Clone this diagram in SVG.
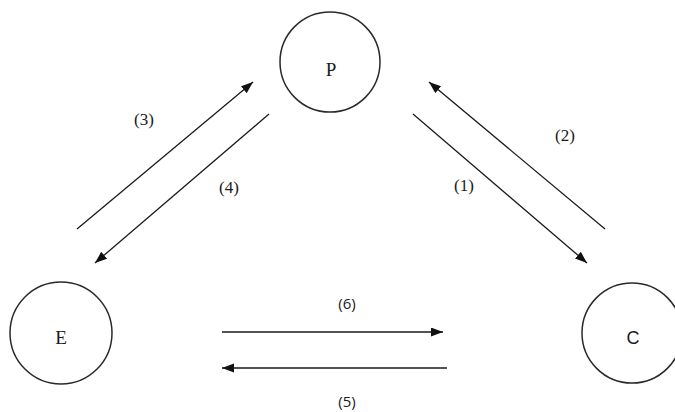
<svg xmlns="http://www.w3.org/2000/svg" width="675" height="412" viewBox="0 0 675 412">
<style>
.node circle{fill:#fff;stroke:#2a2a2a;stroke-width:1.5}
.serif{font-family:"Liberation Serif","Times New Roman",serif;font-size:19px;fill:#1a1a1a;text-anchor:middle}
.sans{font-family:"Liberation Sans","Open Sans",Arial,sans-serif;font-size:18px;fill:#1a1a1a;text-anchor:middle}
.lbl{font-family:"Liberation Serif","Times New Roman",serif;font-size:17px;fill:#1a1a1a;text-anchor:middle}
.lbls{font-family:"Open Sans","Liberation Sans",sans-serif;font-size:15px;fill:#1a1a1a;text-anchor:middle}
#connectors line{stroke:#1a1a1a;stroke-width:1.3;marker-end:url(#ah)}
</style>
<defs>
<marker id="ah" markerUnits="userSpaceOnUse" markerWidth="13" markerHeight="10" refX="12" refY="4.5" orient="auto">
<path d="M0,0 L12,4.5 L0,9 z" fill="#111"/>
</marker>
</defs>
<rect width="675" height="412" fill="#fff"/>
<g id="node-P" class="node"><circle cx="330" cy="62" r="50"/><text class="serif" x="331" y="76">P</text></g>
<g id="node-E" class="node"><circle cx="61" cy="333" r="51"/><text class="serif" x="61" y="344">E</text></g>
<g id="node-C" class="node"><circle cx="632" cy="333" r="50"/><text class="sans" x="633" y="344">C</text></g>
<g id="connectors">
<line x1="413" y1="114" x2="587" y2="263"/>
<line x1="605" y1="229" x2="429" y2="82"/>
<line x1="77" y1="229" x2="253" y2="82"/>
<line x1="269" y1="114" x2="95" y2="263"/>
<line x1="447" y1="368" x2="222" y2="368"/>
<line x1="222" y1="332" x2="443" y2="332"/>
</g>
<g id="labels">
<text class="lbl" x="464" y="191">(1)</text>
<text class="lbl" x="565" y="141">(2)</text>
<text class="lbl" x="144" y="125">(3)</text>
<text class="lbl" x="229" y="193">(4)</text>
<text class="lbls" x="347" y="407">(5)</text>
<text class="lbls" x="347" y="309">(6)</text>
</g>
</svg>
